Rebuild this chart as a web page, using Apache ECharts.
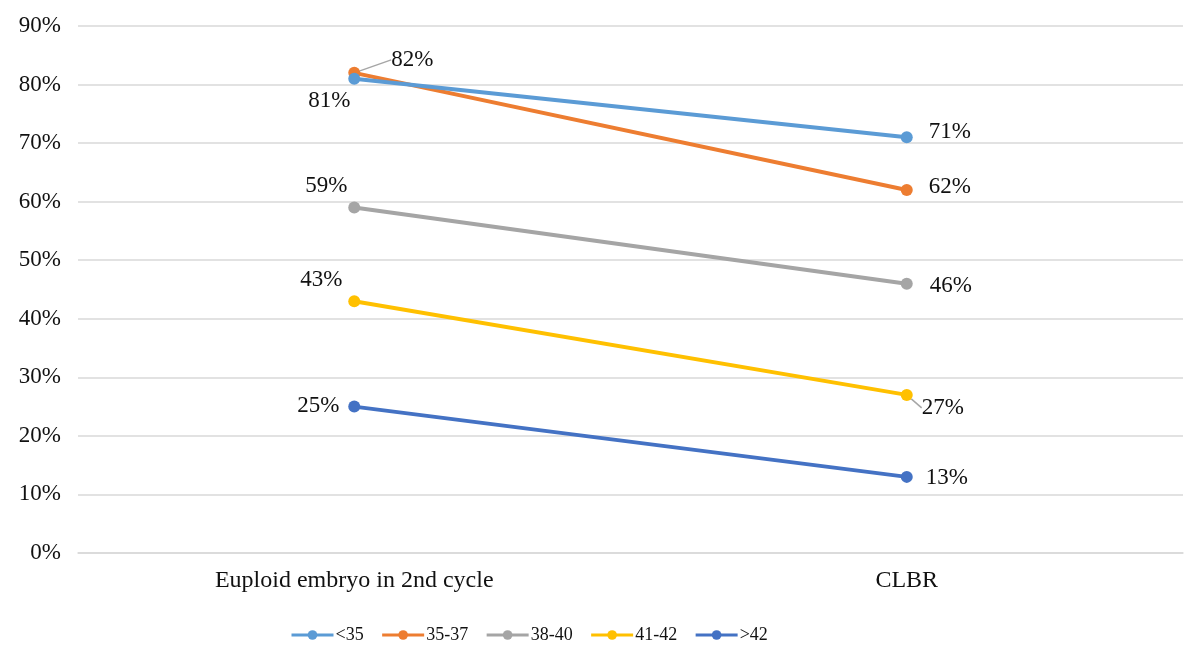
<!DOCTYPE html>
<html>
<head>
<meta charset="utf-8">
<script src="https://cdn.jsdelivr.net/npm/echarts@6/dist/echarts.min.js"></script>
<style>
  html, body { margin: 0; padding: 0; background: #fff; }
  #main { width: 1200px; height: 658px; }
</style>
</head>
<body>
<div id="main"></div>
<script>
var categories = ['Euploid embryo in 2nd cycle', 'CLBR']
var groups = ['<35', '35-37', '38-40', '41-42', '>42']
var under35 = [81, 71]
var age3537 = [82, 62]
var age3840 = [59, 46]
var age4142 = [43, 27]
var over42 = [25, 13]
var yTicks = [0, 10, 20, 30, 40, 50, 60, 70, 80, 90]

var colors = ['#5b9bd5', '#ed7d31', '#a5a5a5', '#ffc000', '#4472c4']
var seriesData = [under35, age3537, age3840, age4142, over42]
// label shift from the point, [first point, second point]
var labelOffsets = [
  [[-25, 22], [43, -5]],
  [[58, -13], [43, -3]],
  [[-28, -22], [44, 2]],
  [[-33, -21], [36, 13]],
  [[-36, -1], [40, 1]]
]
// points whose label is joined to the marker by a short line
var leader = [[false, false], [true, false], [false, false], [false, true], [false, false]]

var chart = echarts.init(document.getElementById('main'))

var series = groups.map(function (name, i) {
  return {
    name: name,
    type: 'line',
    symbol: 'circle',
    symbolSize: 12,
    lineStyle: { width: 4, color: colors[i] },
    itemStyle: { color: colors[i] },
    z: 10 - i,
    label: {
      show: true,
      position: 'inside',
      color: '#111',
      fontFamily: 'Liberation Serif',
      fontSize: 23,
      formatter: '{c}%'
    },
    labelLine: {
      show: false,
      lineStyle: { color: '#a6a6a6', width: 1.5 }
    },
    labelLayout: function (params) {
      var o = labelOffsets[i][params.dataIndex]
      return { dx: o[0], dy: o[1] }
    },
    data: seriesData[i].map(function (v, j) {
      return {
        value: v,
        labelLine: { show: leader[i][j] }
      }
    })
  }
})

var option = {
  backgroundColor: '#fff',
  animation: false,
  color: colors,
  grid: {
    left: 78,
    right: 17,
    top: 26,
    bottom: 105
  },
  legend: {
    left: 285,
    top: 621,
    itemWidth: 42,
    itemHeight: 12,
    itemGap: 17,
    lineStyle: { width: 3 },
    textStyle: {
      color: '#111',
      fontFamily: 'Liberation Serif',
      fontSize: 18,
      padding: [0, 0, 0, -3]
    },
    data: groups
  },
  xAxis: {
    type: 'category',
    data: categories,
    axisLine: { lineStyle: { color: '#d9d9d9', width: 1.5 } },
    axisTick: { show: false },
    axisLabel: {
      color: '#111',
      fontFamily: 'Liberation Serif',
      fontSize: 24,
      margin: 16
    }
  },
  yAxis: {
    type: 'value',
    min: yTicks[0],
    max: yTicks[yTicks.length - 1],
    interval: 10,
    axisLine: { show: false },
    axisTick: { show: false },
    axisLabel: {
      color: '#111',
      fontFamily: 'Liberation Serif',
      fontSize: 23,
      margin: 17,
      formatter: '{value}%'
    },
    splitLine: { lineStyle: { color: '#d9d9d9', width: 1.5 } }
  },
  series: series
}

chart.setOption(option)
</script>
</body>
</html>
